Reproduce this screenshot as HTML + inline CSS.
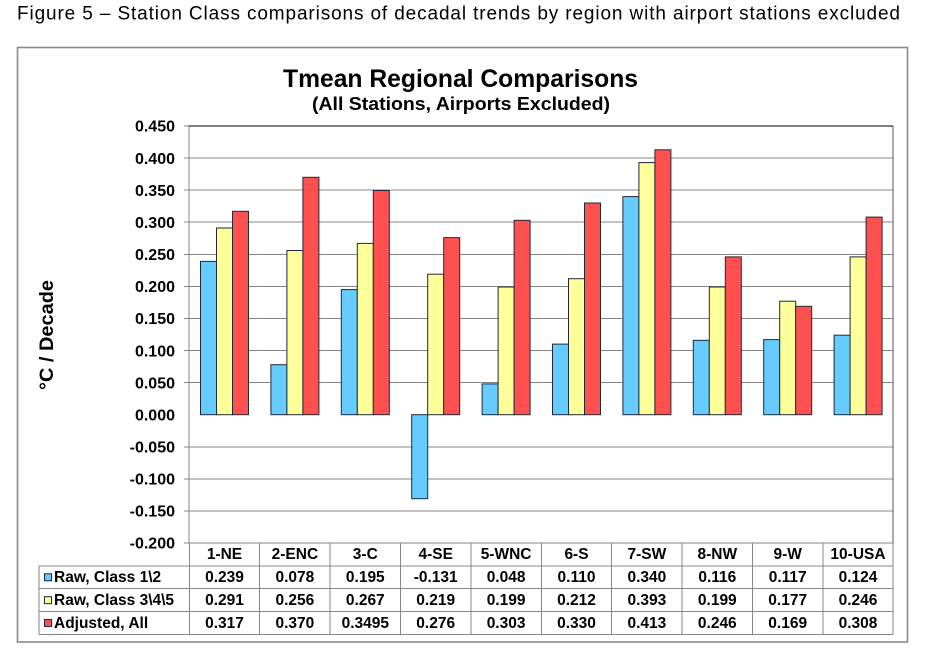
<!DOCTYPE html>
<html>
<head>
<meta charset="utf-8">
<style>
html,body{margin:0;padding:0;background:#fff;}
svg{display:block;}
text{font-family:"Liberation Sans",Arial,sans-serif;fill:#000;}
.b{font-weight:bold;}
</style>
</head>
<body>
<svg width="925" height="651" viewBox="0 0 925 651" xmlns="http://www.w3.org/2000/svg">
<rect x="0" y="0" width="925" height="651" fill="#fff"/>
<text x="17" y="19.5" font-size="19" textLength="883" lengthAdjust="spacing">Figure 5 – Station Class comparisons of decadal trends by region with airport stations excluded</text>

<rect x="17.5" y="47.5" width="890" height="594.5" fill="#fff" stroke="#8a8a8a" stroke-width="1.6"/>

<text class="b" x="460.5" y="87" font-size="25" text-anchor="middle" textLength="355" lengthAdjust="spacingAndGlyphs">Tmean Regional Comparisons</text>
<text class="b" x="461" y="110" font-size="18.5" text-anchor="middle" textLength="298" lengthAdjust="spacingAndGlyphs">(All Stations, Airports Excluded)</text>

<text class="b" transform="translate(53,335) rotate(-90)" x="0" y="0" font-size="19" text-anchor="middle" textLength="110" lengthAdjust="spacingAndGlyphs">°C / Decade</text>

<g stroke="#868686" stroke-width="1" shape-rendering="crispEdges">
<line x1="184" y1="158.1" x2="893" y2="158.1"/>
<line x1="184" y1="190.2" x2="893" y2="190.2"/>
<line x1="184" y1="222.2" x2="893" y2="222.2"/>
<line x1="184" y1="254.3" x2="893" y2="254.3"/>
<line x1="184" y1="286.4" x2="893" y2="286.4"/>
<line x1="184" y1="318.5" x2="893" y2="318.5"/>
<line x1="184" y1="350.6" x2="893" y2="350.6"/>
<line x1="184" y1="382.6" x2="893" y2="382.6"/>
<line x1="184" y1="446.8" x2="893" y2="446.8"/>
<line x1="184" y1="478.9" x2="893" y2="478.9"/>
<line x1="184" y1="511.0" x2="893" y2="511.0"/>
<line x1="184" y1="543" x2="893" y2="543"/>
<line x1="184" y1="126" x2="189" y2="126"/>
<line x1="189" y1="126" x2="189" y2="543"/>
<line x1="893" y1="126" x2="893" y2="543" stroke="#555"/>
</g>
<line x1="189" y1="126" x2="893" y2="126" stroke="#000" stroke-width="1.2" shape-rendering="crispEdges"/>

<g class="b" font-size="16" text-anchor="end" font-weight="bold">
<text x="175" y="131.7">0.450</text>
<text x="175" y="163.8">0.400</text>
<text x="175" y="195.9">0.350</text>
<text x="175" y="227.9">0.300</text>
<text x="175" y="260.0">0.250</text>
<text x="175" y="292.1">0.200</text>
<text x="175" y="324.2">0.150</text>
<text x="175" y="356.3">0.100</text>
<text x="175" y="388.3">0.050</text>
<text x="175" y="420.4">0.000</text>
<text x="175" y="452.5">-0.050</text>
<text x="175" y="484.6">-0.100</text>
<text x="175" y="516.7">-0.150</text>
<text x="175" y="548.7">-0.200</text>
</g>

<g stroke="#1e2a3a" stroke-width="1">
<g fill="#66CCFF">
<rect x="200.5" y="261.4" width="16" height="153.3"/>
<rect x="270.9" y="364.7" width="16" height="50.0"/>
<rect x="341.3" y="289.6" width="16" height="125.1"/>
<rect x="411.7" y="414.7" width="16" height="84.0"/>
<rect x="482.1" y="383.9" width="16" height="30.8"/>
<rect x="552.5" y="344.1" width="16" height="70.6"/>
<rect x="622.9" y="196.6" width="16" height="218.1"/>
<rect x="693.3" y="340.3" width="16" height="74.4"/>
<rect x="763.7" y="339.6" width="16" height="75.1"/>
<rect x="834.1" y="335.2" width="16" height="79.5"/>
</g>
<g fill="#FFFF99">
<rect x="216.5" y="228.0" width="16" height="186.7"/>
<rect x="286.9" y="250.5" width="16" height="164.2"/>
<rect x="357.3" y="243.4" width="16" height="171.3"/>
<rect x="427.7" y="274.2" width="16" height="140.5"/>
<rect x="498.1" y="287.0" width="16" height="127.7"/>
<rect x="568.5" y="278.7" width="16" height="136.0"/>
<rect x="638.9" y="162.6" width="16" height="252.1"/>
<rect x="709.3" y="287.0" width="16" height="127.7"/>
<rect x="779.7" y="301.2" width="16" height="113.5"/>
<rect x="850.1" y="256.9" width="16" height="157.8"/>
</g>
<g fill="#FF5050">
<rect x="232.5" y="211.3" width="16" height="203.4"/>
<rect x="302.9" y="177.3" width="16" height="237.4"/>
<rect x="373.3" y="190.5" width="16" height="224.2"/>
<rect x="443.7" y="237.6" width="16" height="177.1"/>
<rect x="514.1" y="220.3" width="16" height="194.4"/>
<rect x="584.5" y="203.0" width="16" height="211.7"/>
<rect x="654.9" y="149.8" width="16" height="264.9"/>
<rect x="725.3" y="256.9" width="16" height="157.8"/>
<rect x="795.7" y="306.3" width="16" height="108.4"/>
<rect x="866.1" y="217.1" width="16" height="197.6"/>
</g>
</g>

<g stroke="#868686" stroke-width="1" shape-rendering="crispEdges">
<line x1="39" y1="566" x2="893" y2="566"/>
<line x1="39" y1="588.7" x2="893" y2="588.7"/>
<line x1="39" y1="611.7" x2="893" y2="611.7"/>
<line x1="39" y1="634.3" x2="893" y2="634.3"/>
<line x1="39" y1="566" x2="39" y2="634.3"/>
<line x1="189.3" y1="543" x2="189.3" y2="634.3"/>
<line x1="259.7" y1="543" x2="259.7" y2="634.3"/>
<line x1="330.1" y1="543" x2="330.1" y2="634.3"/>
<line x1="400.5" y1="543" x2="400.5" y2="634.3"/>
<line x1="470.9" y1="543" x2="470.9" y2="634.3"/>
<line x1="541.3" y1="543" x2="541.3" y2="634.3"/>
<line x1="611.7" y1="543" x2="611.7" y2="634.3"/>
<line x1="682.1" y1="543" x2="682.1" y2="634.3"/>
<line x1="752.5" y1="543" x2="752.5" y2="634.3"/>
<line x1="822.9" y1="543" x2="822.9" y2="634.3"/>
<line x1="893" y1="543" x2="893" y2="634.3"/>
</g>

<g stroke="#1e2a3a" stroke-width="1">
<rect x="44.5" y="573.8" width="7" height="7" fill="#66CCFF"/>
<rect x="44.5" y="596.7" width="7" height="7" fill="#FFFF99"/>
<rect x="44.5" y="619.5" width="7" height="7" fill="#FF5050"/>
</g>

<g font-size="15.5" font-weight="bold">
<text x="54" y="582">Raw, Class 1\2</text>
<text x="54" y="605">Raw, Class 3\4\5</text>
<text x="54" y="628">Adjusted, All</text>
</g>

<g font-size="15.5" font-weight="bold" text-anchor="middle">
<text x="224.5" y="559">1-NE</text>
<text x="294.9" y="559">2-ENC</text>
<text x="365.3" y="559">3-C</text>
<text x="435.7" y="559">4-SE</text>
<text x="506.1" y="559">5-WNC</text>
<text x="576.5" y="559">6-S</text>
<text x="646.9" y="559">7-SW</text>
<text x="717.3" y="559">8-NW</text>
<text x="787.7" y="559">9-W</text>
<text x="858" y="559">10-USA</text>

<text x="224.5" y="582">0.239</text>
<text x="294.9" y="582">0.078</text>
<text x="365.3" y="582">0.195</text>
<text x="435.7" y="582">-0.131</text>
<text x="506.1" y="582">0.048</text>
<text x="576.5" y="582">0.110</text>
<text x="646.9" y="582">0.340</text>
<text x="717.3" y="582">0.116</text>
<text x="787.7" y="582">0.117</text>
<text x="858" y="582">0.124</text>

<text x="224.5" y="605">0.291</text>
<text x="294.9" y="605">0.256</text>
<text x="365.3" y="605">0.267</text>
<text x="435.7" y="605">0.219</text>
<text x="506.1" y="605">0.199</text>
<text x="576.5" y="605">0.212</text>
<text x="646.9" y="605">0.393</text>
<text x="717.3" y="605">0.199</text>
<text x="787.7" y="605">0.177</text>
<text x="858" y="605">0.246</text>

<text x="224.5" y="628">0.317</text>
<text x="294.9" y="628">0.370</text>
<text x="365.3" y="628">0.3495</text>
<text x="435.7" y="628">0.276</text>
<text x="506.1" y="628">0.303</text>
<text x="576.5" y="628">0.330</text>
<text x="646.9" y="628">0.413</text>
<text x="717.3" y="628">0.246</text>
<text x="787.7" y="628">0.169</text>
<text x="858" y="628">0.308</text>
</g>
</svg>
</body>
</html>
